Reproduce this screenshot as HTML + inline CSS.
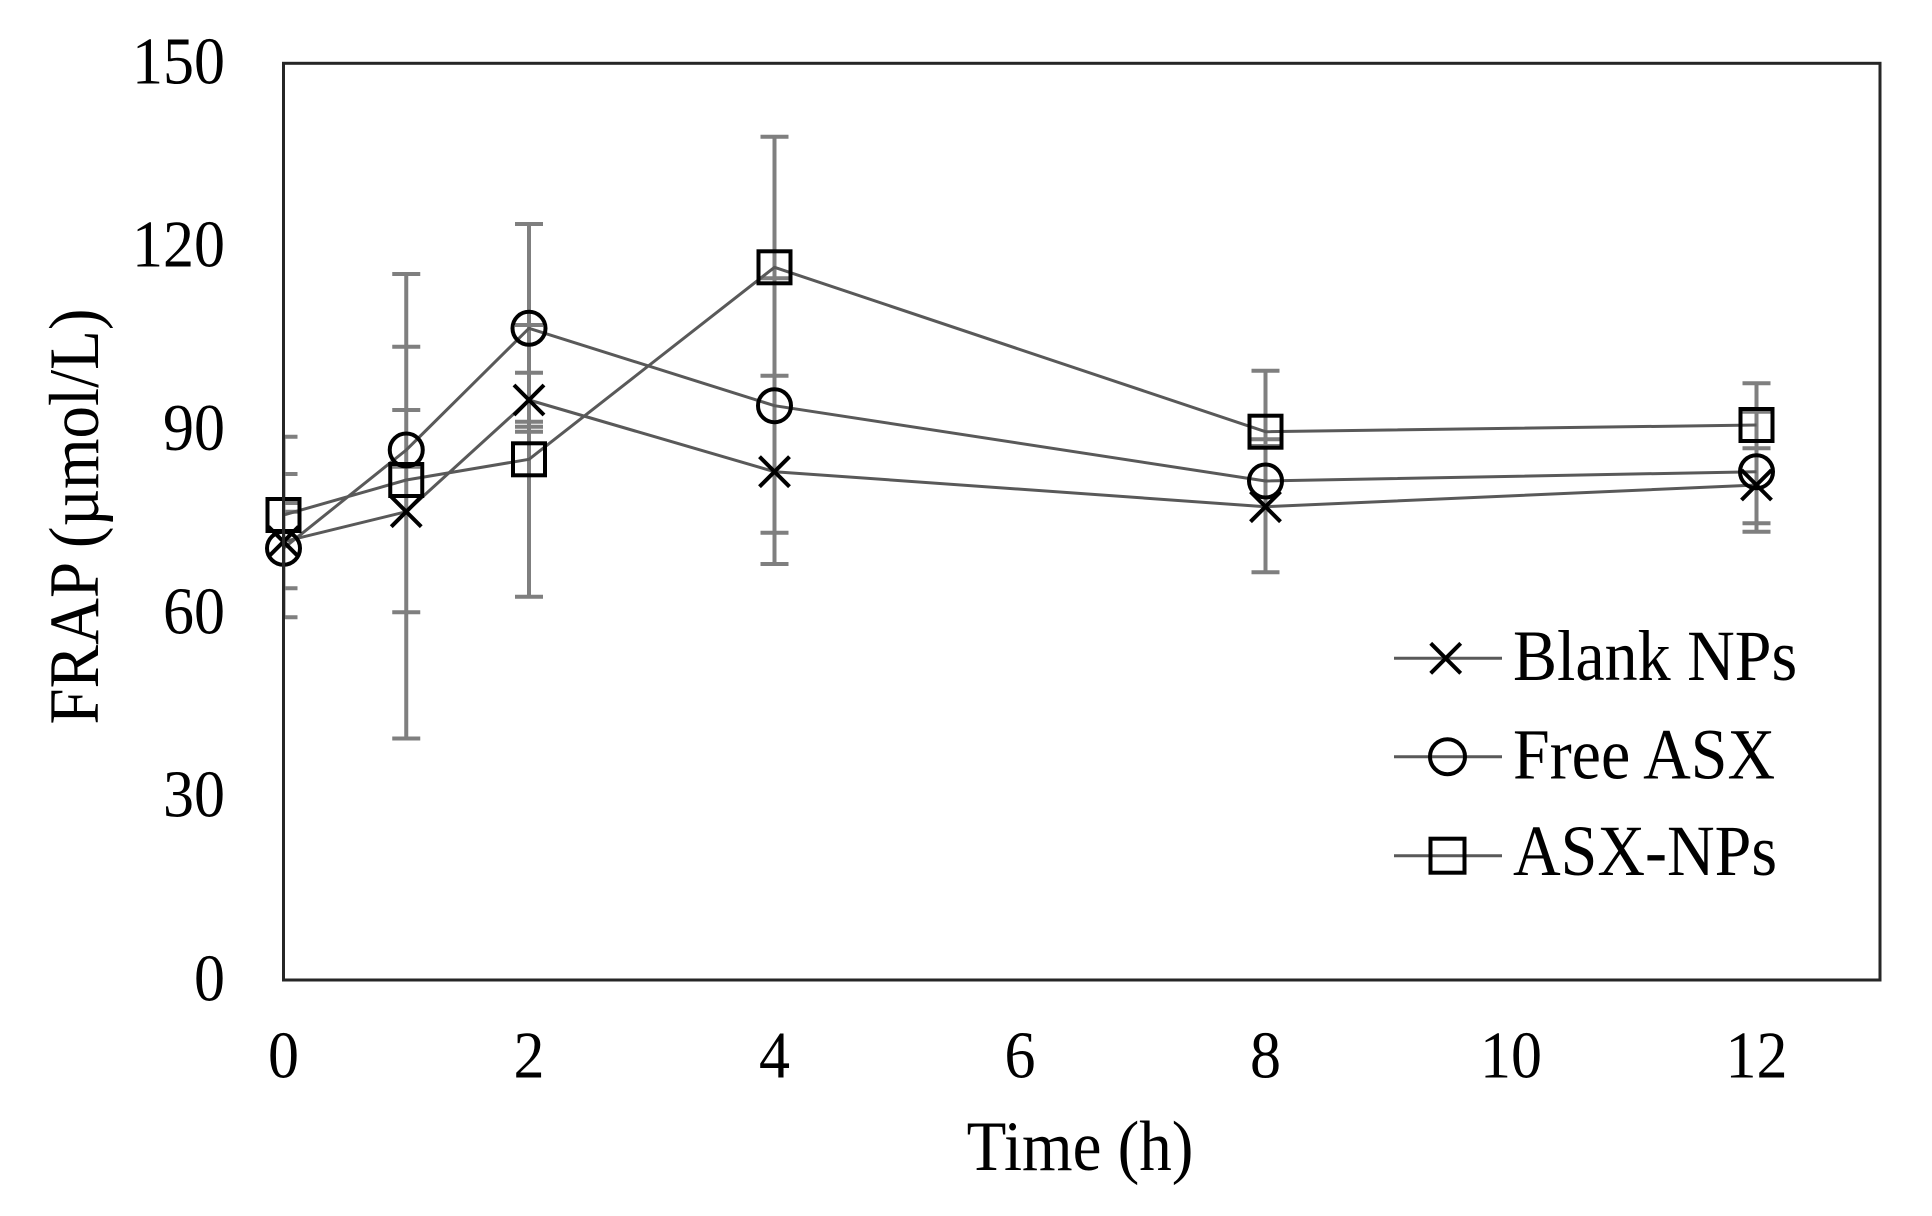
<!DOCTYPE html>
<html>
<head>
<meta charset="utf-8">
<style>
  html, body { margin:0; padding:0; background:#fff; }
  svg { display:block; }
  text { font-family: "Liberation Serif", "Times New Roman", serif; fill:#000; }
</style>
</head>
<body>
<svg width="1932" height="1216" viewBox="0 0 1932 1216" xmlns="http://www.w3.org/2000/svg">
  <rect x="0" y="0" width="1932" height="1216" fill="#fff"/>
  <defs>
    <clipPath id="plot">
      <rect x="283.5" y="63.3" width="1596.5" height="916.7"/>
    </clipPath>
  </defs>

  <!-- Error bars -->
  <g clip-path="url(#plot)" stroke="#7f7f7f" stroke-width="4" fill="none">
    <!-- t=0 -->
    <line x1="283.5" y1="436.7" x2="283.5" y2="617.3"/>
    <line x1="269.5" y1="436.7" x2="297.5" y2="436.7"/>
    <line x1="269.5" y1="474" x2="297.5" y2="474"/>
    <line x1="269.5" y1="503" x2="297.5" y2="503"/>
    <line x1="269.5" y1="511.7" x2="297.5" y2="511.7"/>
    <line x1="269.5" y1="588.3" x2="297.5" y2="588.3"/>
    <line x1="269.5" y1="617.3" x2="297.5" y2="617.3"/>
    <!-- t=1 -->
    <line x1="406.25" y1="274" x2="406.25" y2="738.5"/>
    <line x1="392.25" y1="274" x2="420.25" y2="274"/>
    <line x1="392.25" y1="346.7" x2="420.25" y2="346.7"/>
    <line x1="392.25" y1="410" x2="420.25" y2="410"/>
    <line x1="392.25" y1="466.7" x2="420.25" y2="466.7"/>
    <line x1="392.25" y1="612.3" x2="420.25" y2="612.3"/>
    <line x1="392.25" y1="738.5" x2="420.25" y2="738.5"/>
    <!-- t=2 -->
    <line x1="529" y1="224" x2="529" y2="596.7"/>
    <line x1="515" y1="224" x2="543" y2="224"/>
    <line x1="515" y1="325" x2="543" y2="325"/>
    <line x1="515" y1="372.7" x2="543" y2="372.7"/>
    <line x1="515" y1="421.7" x2="543" y2="421.7"/>
    <line x1="515" y1="426.7" x2="543" y2="426.7"/>
    <line x1="515" y1="431.7" x2="543" y2="431.7"/>
    <line x1="515" y1="596.7" x2="543" y2="596.7"/>
    <!-- t=4 -->
    <line x1="774.5" y1="136.7" x2="774.5" y2="564"/>
    <line x1="760.5" y1="136.7" x2="788.5" y2="136.7"/>
    <line x1="760.5" y1="278.3" x2="788.5" y2="278.3"/>
    <line x1="760.5" y1="375.7" x2="788.5" y2="375.7"/>
    <line x1="760.5" y1="532.7" x2="788.5" y2="532.7"/>
    <line x1="760.5" y1="564" x2="788.5" y2="564"/>
    <!-- t=8 -->
    <line x1="1265.5" y1="370.7" x2="1265.5" y2="572.3"/>
    <line x1="1251.5" y1="370.7" x2="1279.5" y2="370.7"/>
    <line x1="1251.5" y1="439.3" x2="1279.5" y2="439.3"/>
    <line x1="1251.5" y1="446" x2="1279.5" y2="446"/>
    <line x1="1251.5" y1="572.3" x2="1279.5" y2="572.3"/>
    <!-- t=12 -->
    <line x1="1756.5" y1="383.3" x2="1756.5" y2="531.7"/>
    <line x1="1742.5" y1="383.3" x2="1770.5" y2="383.3"/>
    <line x1="1742.5" y1="411.7" x2="1770.5" y2="411.7"/>
    <line x1="1742.5" y1="448.3" x2="1770.5" y2="448.3"/>
    <line x1="1742.5" y1="523.3" x2="1770.5" y2="523.3"/>
    <line x1="1742.5" y1="531.7" x2="1770.5" y2="531.7"/>
  </g>

  <!-- Series lines -->
  <g fill="none" stroke="#595959" stroke-width="3" stroke-linejoin="round">
    <polyline points="283.5,541.7 406.25,511.7 529,400 774.5,471.7 1265.5,506.7 1756.5,485"/>
    <polyline points="283.5,548.3 406.25,450 529,328.3 774.5,405.7 1265.5,481 1756.5,471.7"/>
    <polyline points="283.5,515 406.25,480 529,459.3 774.5,267.3 1265.5,431.7 1756.5,425"/>
  </g>

  <!-- Markers: X (Blank NPs) -->
  <g stroke="#000" stroke-width="4" fill="none">
    <path d="M268.5,526.7 L298.5,556.7 M298.5,526.7 L268.5,556.7"/>
    <path d="M391.25,496.7 L421.25,526.7 M421.25,496.7 L391.25,526.7"/>
    <path d="M514,385 L544,415 M544,385 L514,415"/>
    <path d="M759.5,456.7 L789.5,486.7 M789.5,456.7 L759.5,486.7"/>
    <path d="M1250.5,491.7 L1280.5,521.7 M1280.5,491.7 L1250.5,521.7"/>
    <path d="M1741.5,470 L1771.5,500 M1771.5,470 L1741.5,500"/>
  </g>
  <!-- Markers: circle (Free ASX) -->
  <g stroke="#000" stroke-width="4" fill="none">
    <circle cx="283.5" cy="548.3" r="16.5"/>
    <circle cx="406.25" cy="450" r="16.5"/>
    <circle cx="529" cy="328.3" r="16.5"/>
    <circle cx="774.5" cy="405.7" r="16.5"/>
    <circle cx="1265.5" cy="481" r="16.5"/>
    <circle cx="1756.5" cy="471.7" r="16.5"/>
  </g>
  <!-- Markers: square (ASX-NPs) -->
  <g stroke="#000" stroke-width="4" fill="none">
    <rect x="267.5" y="499" width="32" height="32"/>
    <rect x="390.25" y="464" width="32" height="32"/>
    <rect x="513" y="443.3" width="32" height="32"/>
    <rect x="758.5" y="251.3" width="32" height="32"/>
    <rect x="1249.5" y="415.7" width="32" height="32"/>
    <rect x="1740.5" y="409" width="32" height="32"/>
  </g>

  <!-- Plot border -->
  <rect x="283.5" y="63.3" width="1596.5" height="916.7" fill="none" stroke="#262626" stroke-width="3"/>

  <!-- Y tick labels -->
  <g font-size="62" text-anchor="end">
    <text transform="translate(225,83.3) scale(1,1.08)">150</text>
    <text transform="translate(225,266.7) scale(1,1.08)">120</text>
    <text transform="translate(225,450) scale(1,1.08)">90</text>
    <text transform="translate(225,633.3) scale(1,1.08)">60</text>
    <text transform="translate(225,816.7) scale(1,1.08)">30</text>
    <text transform="translate(225,1000.5) scale(1,1.08)">0</text>
  </g>

  <!-- X tick labels -->
  <g font-size="62" text-anchor="middle">
    <text transform="translate(283.5,1077.3) scale(1,1.08)">0</text>
    <text transform="translate(529,1077.3) scale(1,1.08)">2</text>
    <text transform="translate(774.5,1077.3) scale(1,1.08)">4</text>
    <text transform="translate(1020,1077.3) scale(1,1.08)">6</text>
    <text transform="translate(1265.5,1077.3) scale(1,1.08)">8</text>
    <text transform="translate(1511,1077.3) scale(1,1.08)">10</text>
    <text transform="translate(1756.5,1077.3) scale(1,1.08)">12</text>
  </g>

  <!-- Axis titles -->
  <text font-size="65" text-anchor="middle" transform="translate(1080,1170) scale(1,1.09)">Time (h)</text>
  <text font-size="65" text-anchor="middle" transform="translate(98,516.5) rotate(-90) scale(1,1.09)">FRAP (µmol/L)</text>

  <!-- Legend -->
  <g stroke="#595959" stroke-width="3">
    <line x1="1394" y1="658.3" x2="1502" y2="658.3"/>
    <line x1="1394" y1="756.7" x2="1502" y2="756.7"/>
    <line x1="1394" y1="855.7" x2="1502" y2="855.7"/>
  </g>
  <g stroke="#000" stroke-width="4" fill="none">
    <path d="M1430.7,643.3 L1460.7,673.3 M1460.7,643.3 L1430.7,673.3"/>
    <circle cx="1447.5" cy="756.7" r="17.5"/>
    <rect x="1430.5" y="838.7" width="34" height="34"/>
  </g>
  <g font-size="66">
    <text transform="translate(1513,680) scale(1,1.09)">Blank NPs</text>
    <text transform="translate(1513,778.3) scale(1,1.09)">Free ASX</text>
    <text transform="translate(1513,875) scale(1,1.09)">ASX-NPs</text>
  </g>
</svg>
</body>
</html>
